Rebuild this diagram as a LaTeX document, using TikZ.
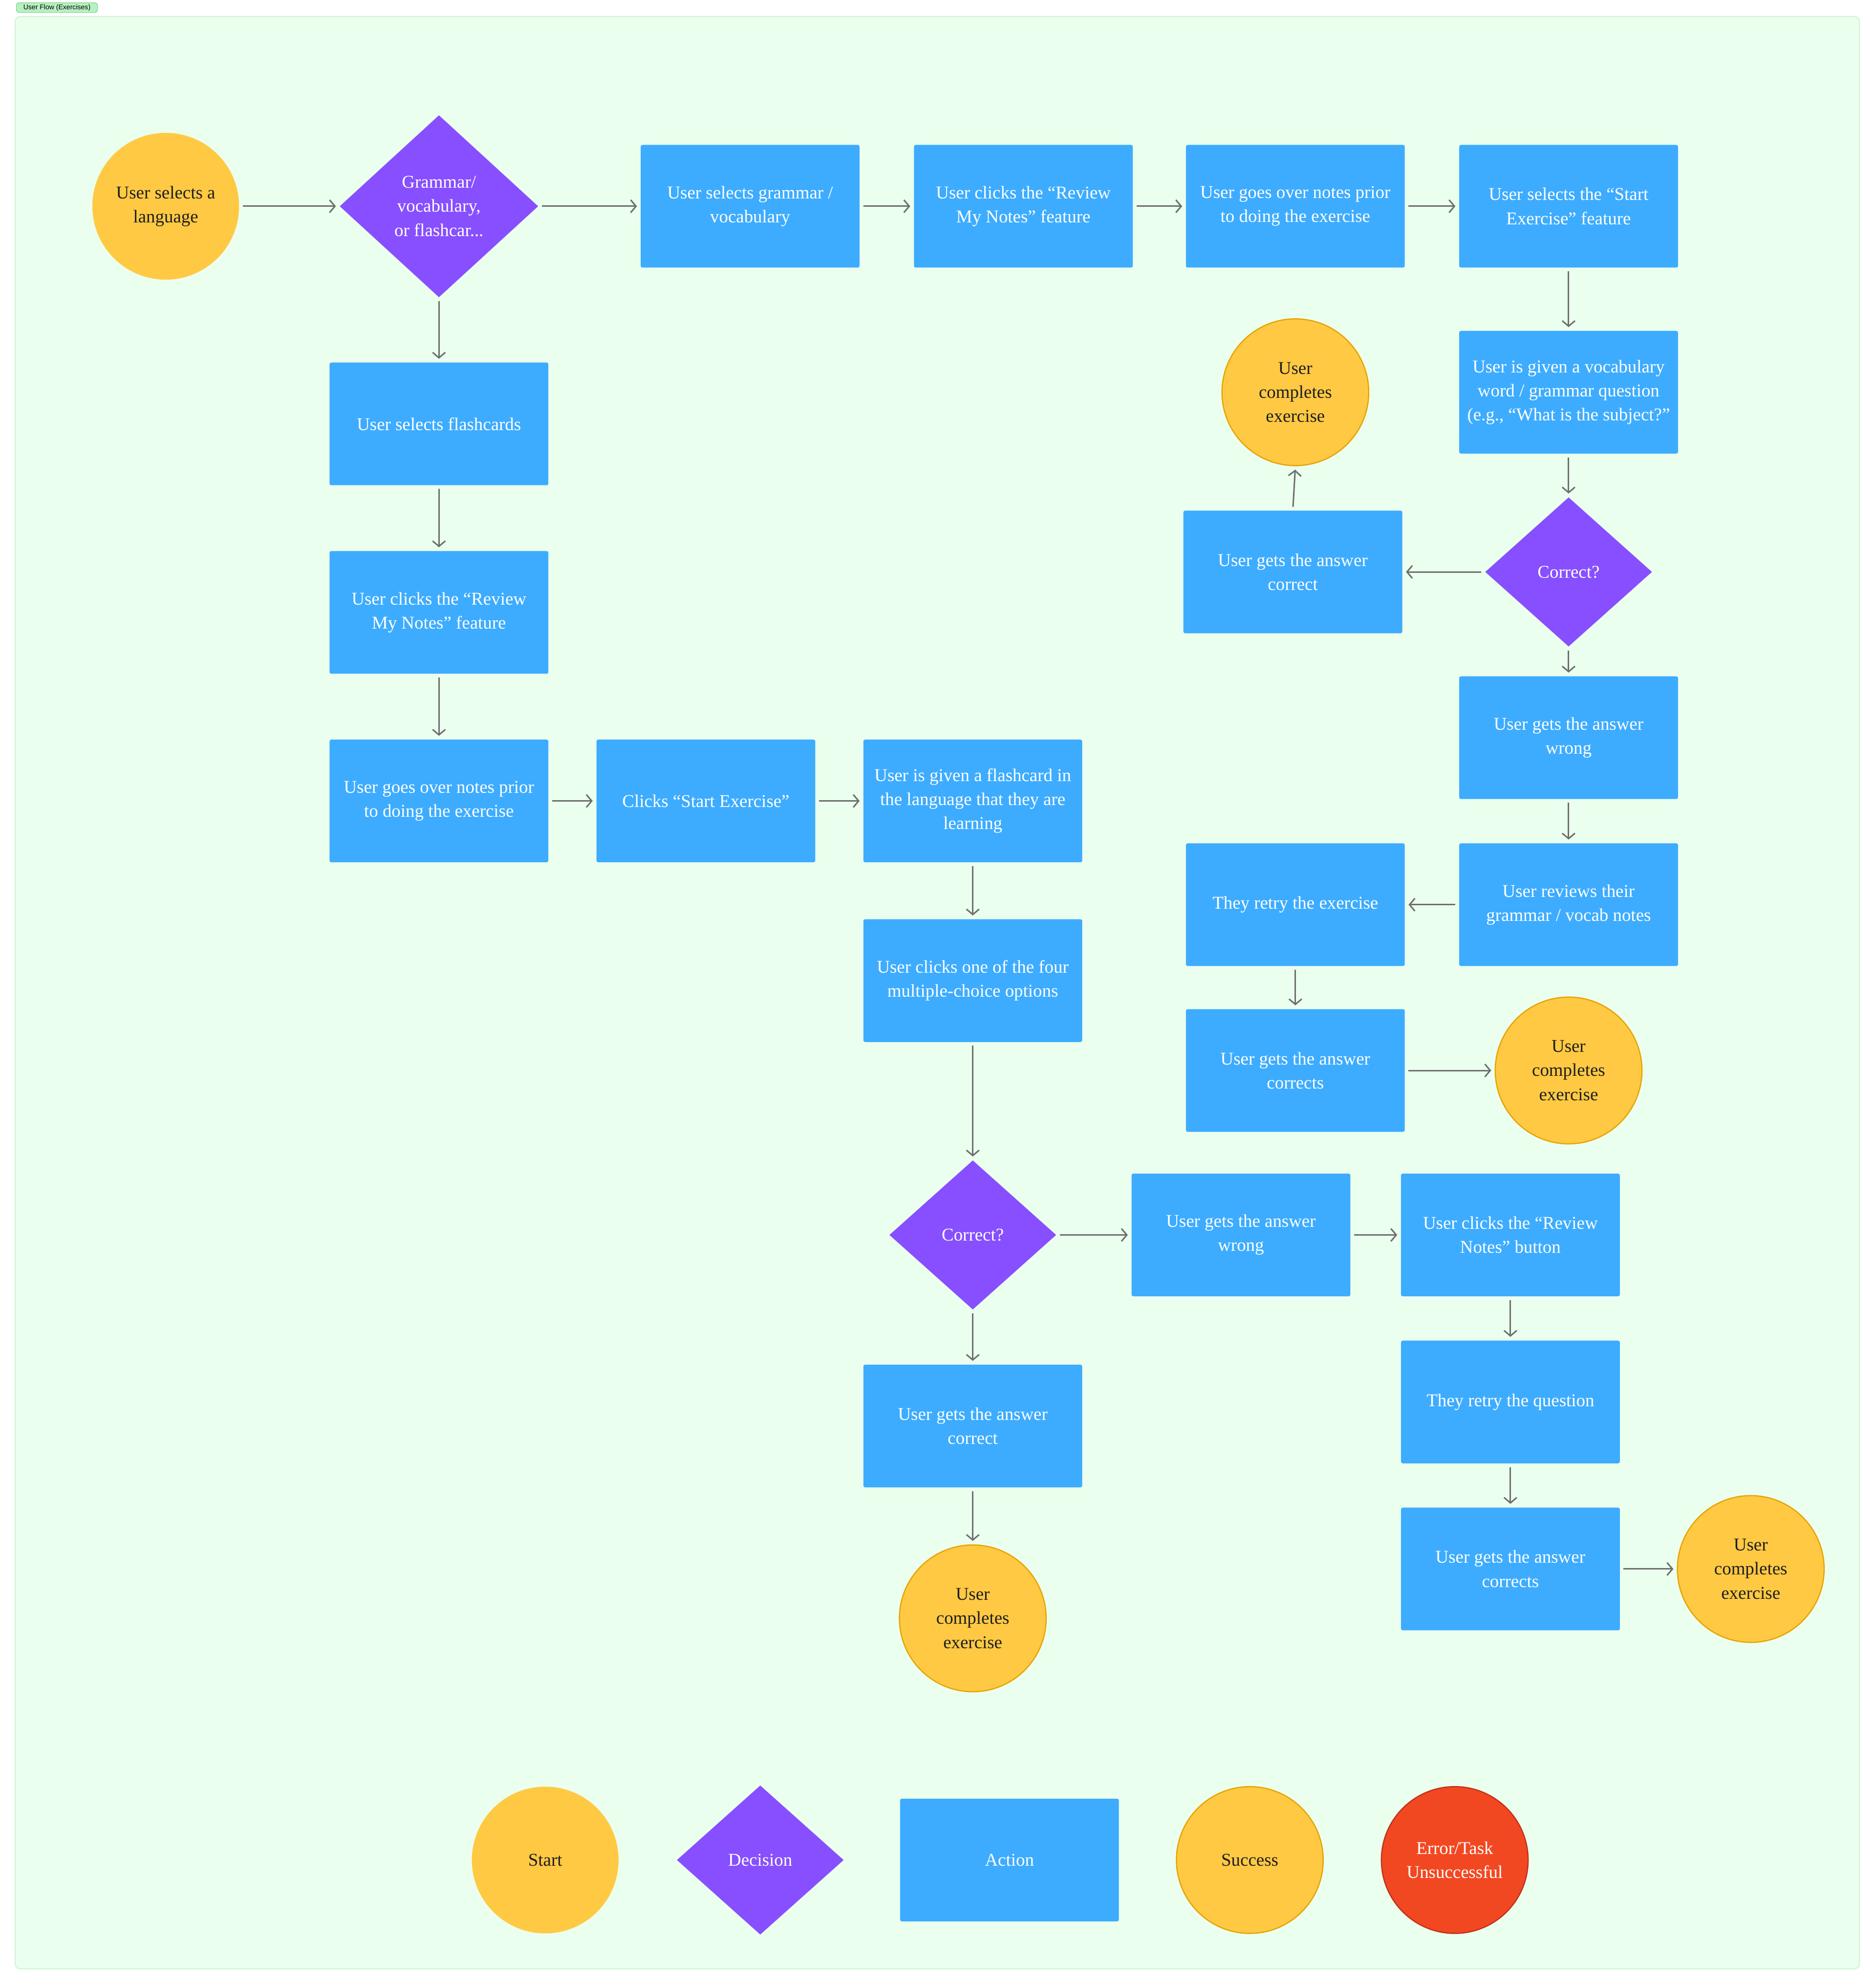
\documentclass[tikz,border=0pt]{standalone}
\usepackage{fontspec}
\setmainfont{Liberation Serif}
\setsansfont{Liberation Sans}
\usetikzlibrary{shapes.geometric,arrows.meta}

\definecolor{bgGreen}{HTML}{EBFFEE}
\definecolor{bgEdge}{HTML}{CDF4D5}
\definecolor{tagFill}{HTML}{B8F0C2}
\definecolor{tagEdge}{HTML}{7FD98E}
\definecolor{actBlue}{HTML}{3DACFF}
\definecolor{decPurple}{HTML}{874FFF}
\definecolor{startYel}{HTML}{FFC943}
\definecolor{succEdge}{HTML}{E8A302}
\definecolor{errRed}{HTML}{F24822}
\definecolor{errEdge}{HTML}{C4301A}
\definecolor{lineGray}{HTML}{6E6E6E}
\definecolor{darkTxt}{HTML}{1E1E1E}

\newcommand\flowfont{\fontsize{10.5}{14}\selectfont}

\tikzset{
  action/.style={rectangle, rounded corners=1pt, fill=actBlue, text=white,
    minimum width=4.479cm, minimum height=2.511cm, align=center, font=\flowfont},
  start/.style={circle, fill=startYel, text=darkTxt, minimum size=3.003cm,
    inner sep=0pt, align=center, font=\flowfont},
  success/.style={start, draw=succEdge, line width=0.7pt},
  failure/.style={start, fill=errRed, draw=errEdge, text=white, line width=0.7pt},
  decision/.style={diamond, fill=decPurple, text=white, inner sep=0pt,
    minimum width=3.417cm, minimum height=3.055cm, align=center, font=\flowfont},
  flow/.style={draw=lineGray, line width=0.85pt,
    -{Straight Barb[length=1.1mm,width=2.6mm]}, shorten <=2pt, shorten >=2pt}
}

\begin{document}
\begin{tikzpicture}[x=0.02589cm, y=-0.02589cm]
\useasboundingbox (0,0) rectangle (1483,1568);
% frame
\fill[bgGreen, draw=bgEdge, line width=0.6pt, rounded corners=3pt] (12,13) rectangle (1470,1556);
\node[fill=tagFill, draw=tagEdge, line width=0.4pt, rounded corners=1.5pt, inner sep=0.6pt,
  minimum width=1.66cm, minimum height=0.2cm, font=\sffamily\fontsize{4}{5}\selectfont] (tag) at (45,6) {User Flow (Exercises)};

% entry
\node[start] (lang) at (131,163) {User selects a\\language};
\node[decision, minimum width=4.065cm, minimum height=3.728cm] (kind) at (347,163) {Grammar/\\vocabulary,\\or flashcar...};

% grammar / vocabulary branch
\node[action] (gv)     at (593,163)  {User selects grammar /\\vocabulary};
\node[action] (rn1)    at (809,163)  {User clicks the “Review\\My Notes” feature};
\node[action] (notes1) at (1024,163) {User goes over notes prior\\to doing the exercise};
\node[action] (sx1)    at (1240,163) {User selects the “Start\\Exercise” feature};
\node[action] (vq)     at (1240,310) {User is given a vocabulary\\word / grammar question\\(e.g., “What is the subject?”};
\node[decision] (cor1) at (1240,452) {Correct?};
\node[action] (ok1)    at (1022,452) {User gets the answer\\correct};
\node[success] (done1) at (1024,310) {User\\completes\\exercise};
\node[action] (wr1)    at (1240,583) {User gets the answer\\wrong};
\node[action] (rev)    at (1240,715) {User reviews their\\grammar / vocab notes};
\node[action] (retry1) at (1024,715) {They retry the exercise};
\node[action] (ok2)    at (1024,846) {User gets the answer\\corrects};
\node[success] (done2) at (1240,846) {User\\completes\\exercise};

% flashcard branch
\node[action] (fc)     at (347,335)  {User selects flashcards};
\node[action] (rn2)    at (347,484)  {User clicks the “Review\\My Notes” feature};
\node[action] (notes2) at (347,633)  {User goes over notes prior\\to doing the exercise};
\node[action] (sx2)    at (558,633)  {Clicks “Start Exercise”};
\node[action] (card)   at (769,633)  {User is given a flashcard in\\the language that they are\\learning};
\node[action] (mc)     at (769,775)  {User clicks one of the four\\multiple-choice options};
\node[decision] (cor2) at (769,976)  {Correct?};
\node[action] (ok3)    at (769,1127) {User gets the answer\\correct};
\node[success] (done3) at (769,1279) {User\\completes\\exercise};
\node[action] (wr2)    at (981,976)  {User gets the answer\\wrong};
\node[action] (revn)   at (1194,976) {User clicks the “Review\\Notes” button};
\node[action] (retry2) at (1194,1108) {They retry the question};
\node[action] (ok4)    at (1194,1240) {User gets the answer\\corrects};
\node[success] (done4) at (1384,1240) {User\\completes\\exercise};

% legend
\node[start]    (keyStart) at (431,1470)  {Start};
\node[decision] (keyDec)   at (601,1470)  {Decision};
\node[action]   (keyAct)   at (798,1470)  {Action};
\node[success]  (keySucc)  at (988,1470)  {Success};
\node[failure]  (keyErr)   at (1150,1470) {Error/Task\\Unsuccessful};

% connectors
\draw[flow] (lang) -- (kind);
\draw[flow] (kind) -- (gv);
\draw[flow] (gv) -- (rn1);
\draw[flow] (rn1) -- (notes1);
\draw[flow] (notes1) -- (sx1);
\draw[flow] (sx1) -- (vq);
\draw[flow] (vq) -- (cor1);
\draw[flow] (cor1) -- (ok1);
\draw[flow] (ok1.north) -- (done1.south);
\draw[flow] (cor1) -- (wr1);
\draw[flow] (wr1) -- (rev);
\draw[flow] (rev) -- (retry1);
\draw[flow] (retry1) -- (ok2);
\draw[flow] (ok2) -- (done2);
\draw[flow] (kind) -- (fc);
\draw[flow] (fc) -- (rn2);
\draw[flow] (rn2) -- (notes2);
\draw[flow] (notes2) -- (sx2);
\draw[flow] (sx2) -- (card);
\draw[flow] (card) -- (mc);
\draw[flow] (mc) -- (cor2);
\draw[flow] (cor2) -- (ok3);
\draw[flow] (ok3) -- (done3);
\draw[flow] (cor2) -- (wr2);
\draw[flow] (wr2) -- (revn);
\draw[flow] (revn) -- (retry2);
\draw[flow] (retry2) -- (ok4);
\draw[flow] (ok4) -- (done4);
\end{tikzpicture}
\end{document}
